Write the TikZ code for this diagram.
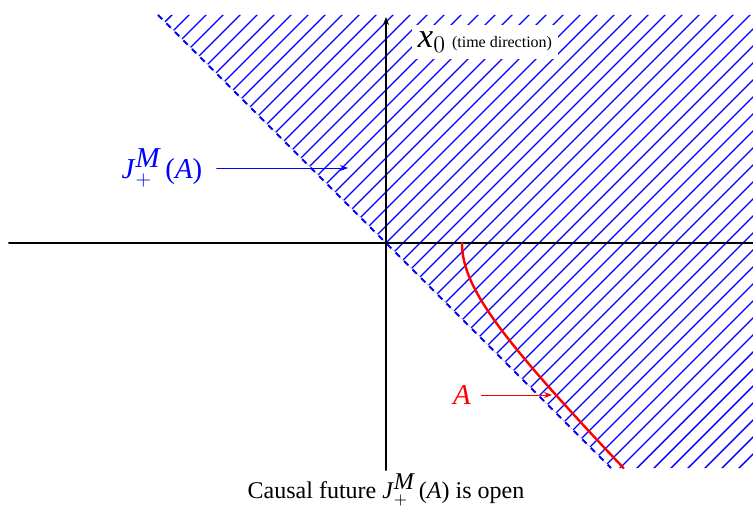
\documentclass[tikz,border=0pt,12pt]{standalone}
\usepackage{fontspec}
\setmainfont{Liberation Serif}
\usetikzlibrary{arrows.meta}
\newcommand{\futJ}{\textit{J}$_{+}^{\textit{M}}$\,(\textit{A})}

\begin{document}
\begin{tikzpicture}[x=0.5pt,y=0.5pt,>={Stealth[length=4pt]},line cap=round]
\useasboundingbox (-386,-264) rectangle (367,243);
\coordinate (O) at (0,0);
\coordinate (ctop) at (-228,228);
\coordinate (cbot) at (225,-225);
\begin{scope}
\clip (ctop) -- (367,228) -- (367,-225) -- (cbot) -- cycle;
\foreach \k in {-28,...,36}
  \draw[blue,line width=0.7pt] ({17*\k-300},-300) -- ({17*\k+300},300);
\end{scope}
\draw[gray!40,very thin] (ctop) -- (cbot);
\draw[blue,line width=1pt,line cap=butt,dash pattern=on 3pt off 3pt] (ctop) -- (cbot);
\draw[line width=1pt] (-377,0) -- (367,0);
\draw[line width=1pt,->] (0,-227) -- (0,226);
\draw[red,line width=1.2pt] plot[domain=0:1.806,samples=60] ({76*cosh(\x)},{-76*sinh(\x)});
\node[fill=white,inner sep=3pt,minimum height=15pt] (xlab) at (99,201) {{\Large\textit{x}$_0$} \scriptsize(time direction)};
\node[blue,font=\large] (jlab) at (-224,75) {\futJ};
\coordinate (jtip) at (-38,75);
\draw[blue,->,shorten <=3pt] (jlab) -- (jtip);
\node[red,font=\large] (alab) at (76,-152) {\textit{A}};
\coordinate (atip) at (166,-152);
\draw[red,->,shorten <=1pt] (alab) -- (atip);
\node (cap) at (0,-247) {Causal future \futJ\ is open};
\end{tikzpicture}
\end{document}
